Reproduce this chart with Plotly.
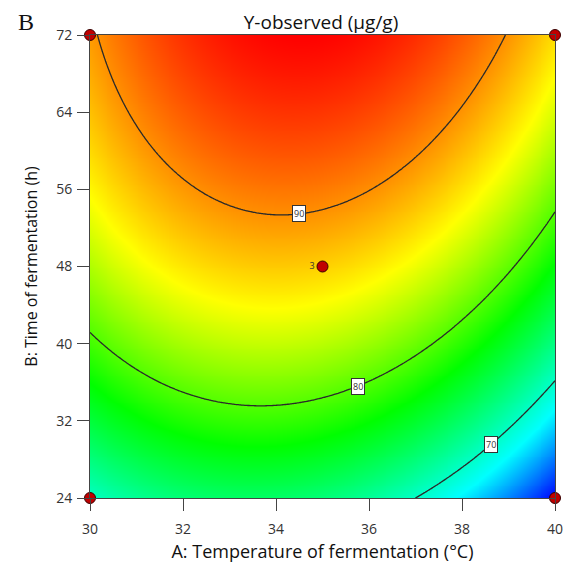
import numpy as np
import plotly.graph_objects as go

# Fitted quadratic model (coded units)
coef_names = ["b0", "A", "B", "AB", "A2", "B2"]
coef_values = [87.41, -2.94, 11.3, 1.61, -7.34, -3.12]

a_range = [30, 40]   # Temperature (°C)
b_range = [24, 72]   # Time (h)

contour_levels = [70, 80, 90]
label_x = [38.62, 35.76, 34.49]   # x positions of contour labels

design_x = [30, 30, 40, 40, 35]
design_y = [24, 72, 24, 72, 48]
center_label = "3"

x_ticks = [30, 32, 34, 36, 38, 40]
y_ticks = [24, 32, 40, 48, 56, 64, 72]

b0, cA, cB, cAB, cA2, cB2 = coef_values


def coded(v, r):
    return (np.asarray(v) - (r[0] + r[1]) / 2) / ((r[1] - r[0]) / 2)


def model(x, y):
    a = coded(x, a_range)
    b = coded(y, b_range)
    return b0 + cA * a + cB * b + cAB * a * b + cA2 * a * a + cB2 * b * b


xs = np.linspace(a_range[0], a_range[1], 241)
ys = np.linspace(b_range[0], b_range[1], 241)
X, Y = np.meshgrid(xs, ys)
Z = model(X, Y)
zmin, zmax = float(Z.min()), float(Z.max())

colorscale = [
    [0.0, "rgb(0,0,255)"],
    [0.2, "rgb(0,255,255)"],
    [0.47, "rgb(0,255,0)"],
    [0.71, "rgb(255,255,0)"],
    [1.0, "rgb(255,0,0)"],
]

W, H = 568, 565
ML, MR, MT, MB = 82, 21, 27, 75
PW, PH = W - ML - MR, H - MT - MB

fig = go.Figure()
fig.add_trace(go.Heatmap(x=xs, y=ys, z=Z, colorscale=colorscale, zmin=zmin, zmax=zmax,
                         zsmooth="best", showscale=False, hoverinfo="skip"))
fig.add_trace(go.Contour(x=xs, y=ys, z=Z, contours=dict(coloring="none", start=70, end=90, size=10,
                                                        showlabels=False),
                         line=dict(color="#2a2a2a", width=1.3), showscale=False, hoverinfo="skip"))

# Contour labels: solve model for y at given x
for lvl, lx in zip(contour_levels, label_x):
    a = coded(lx, a_range)
    qa = cB2
    qb = cB + cAB * a
    qc = b0 + cA * a + cA2 * a * a - lvl
    roots = np.roots([qa, qb, qc])
    roots = [r.real for r in roots if abs(r.imag) < 1e-9 and -1 <= r.real <= 1]
    b = roots[0]
    ly = (b_range[0] + b_range[1]) / 2 + b * (b_range[1] - b_range[0]) / 2
    fig.add_annotation(x=lx, y=ly, text=str(lvl), showarrow=False,
                       font=dict(family="Open Sans, DejaVu Sans", size=9, color="#333"),
                       bgcolor="white", bordercolor="#333", borderwidth=1, borderpad=1)

fig.add_trace(go.Scatter(x=design_x[:4], y=design_y[:4], mode="markers",
                         marker=dict(size=11, color="#c00000", line=dict(color="#3a0000", width=1)),
                         cliponaxis=False, hoverinfo="skip"))
fig.add_trace(go.Scatter(x=design_x[4:], y=design_y[4:], mode="markers+text", text=[center_label],
                         textposition="middle left",
                         textfont=dict(family="Open Sans, DejaVu Sans", size=9, color="#333"),
                         marker=dict(size=11, color="#c00000", line=dict(color="#3a0000", width=1)),
                         cliponaxis=False, hoverinfo="skip"))

fig.update_layout(
    width=W, height=H,
    margin=dict(l=ML, r=MR, t=MT, b=MB),
    paper_bgcolor="white", plot_bgcolor="white",
    showlegend=False,
    font=dict(family="Open Sans, DejaVu Sans", color="#222"),
    title=dict(text="Y-observed (μg/g)", x=313 / W, xanchor="center", y=1 - 14 / H, yanchor="middle",
               pad=dict(t=0, b=0), font=dict(size=19, color="#111")),
)
fig.update_xaxes(range=a_range, tickvals=x_ticks, ticks="outside", ticklen=12, tickcolor="#444",
                 ticklabelstandoff=6,
                 showgrid=False, zeroline=False, showline=True, linecolor="#444", linewidth=1,
                 mirror=True, tickfont=dict(size=14, color="#333"),
                 title=dict(text="A: Temperature of fermentation (°C)", font=dict(size=18, color="#111"),
                            standoff=8))
fig.update_yaxes(range=b_range, tickvals=y_ticks, ticks="outside", ticklen=12, tickcolor="#444",
                 ticklabelstandoff=2,
                 showgrid=False, zeroline=False, showline=True, linecolor="#444", linewidth=1,
                 mirror=True, tickfont=dict(size=14, color="#333"),
                 title=dict(text="B: Time of fermentation (h)", font=dict(size=16, color="#111"),
                            standoff=14))
fig.add_annotation(xref="paper", yref="paper", x=(18 - ML) / PW, y=(PH + MT - 14) / PH, text="B",
                   showarrow=False, xanchor="center", yanchor="middle",
                   font=dict(family="Liberation Serif, DejaVu Serif", size=24, color="#111"))

fig.write_html("out.html")
